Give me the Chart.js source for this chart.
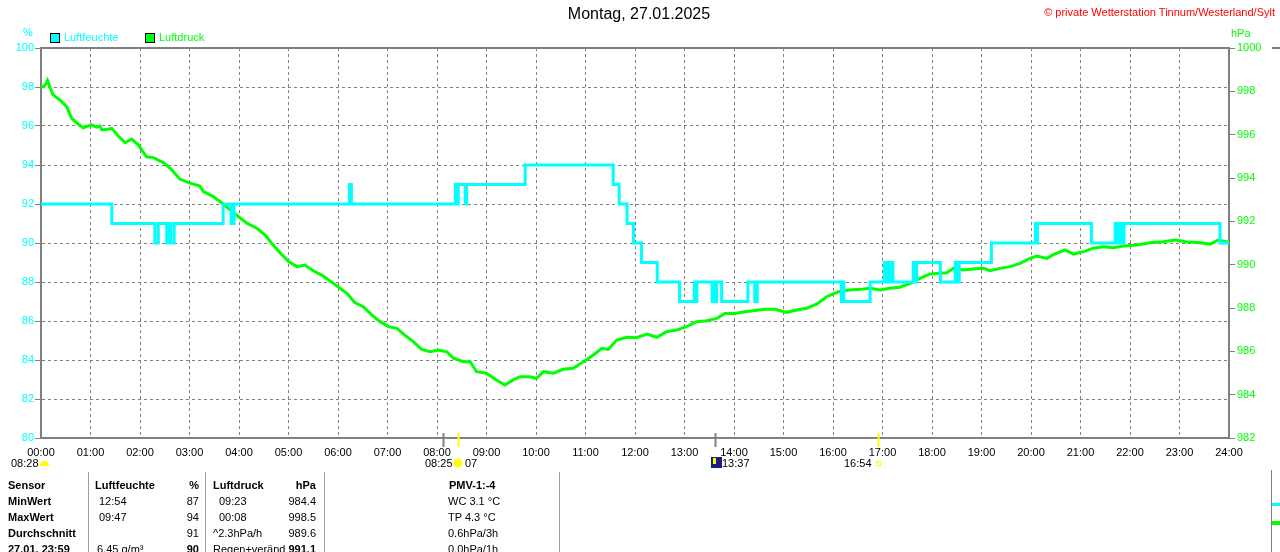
<!DOCTYPE html>
<html>
<head>
<meta charset="utf-8">
<title>Montag, 27.01.2025</title>
<script src="https://cdn.jsdelivr.net/npm/chart.js@4.4.1/dist/chart.umd.min.js"></script>
<style>
body { margin: 0; background: #fff; font-family: "Liberation Sans", Arial, sans-serif; font-size: 11px; }
#wrap { position: relative; width: 1280px; height: 552px; overflow: hidden; }
canvas { position: absolute; left: 0; top: 0; }
.t { position: absolute; white-space: nowrap; line-height: 13px; color: #000; }
.b { font-weight: bold; }
.sep { position: absolute; width: 1px; background: #a0a0a0; top: 472px; height: 80px; }
.box { position: absolute; width: 8px; height: 8px; border: 1px solid #000; }
</style>
</head>
<body>
<div id="wrap">
  <canvas id="chart" width="1280" height="552"></canvas>

  <div class="t" style="left:0;width:1278px;text-align:center;top:6px;font-size:16px;line-height:16px;">Montag, 27.01.2025</div>
  <div class="t" style="right:5px;top:6px;color:#ff0000;">© private Wetterstation Tinnum/Westerland/Sylt</div>

  <div class="t" style="left:23px;top:26px;color:#00ffff;">%</div>
  <div class="t" style="left:1231px;top:27px;color:#00ff00;">hPa</div>

  <div class="box" style="left:50px;top:33px;background:#00ffff;"></div>
  <div class="t" style="left:64px;top:31px;color:#00ffff;">Luftfeuchte</div>
  <div class="box" style="left:145px;top:33px;background:#00ff00;"></div>
  <div class="t" style="left:159px;top:31px;color:#00ff00;">Luftdruck</div>

  <!-- Sonne / Mond -->
  <div class="t" style="left:11px;top:457px;">08:28</div>
  <div style="position:absolute;left:40px;top:461px;width:9px;height:5px;background:#ffff00;border-radius:5px 5px 0 0;"></div>
  <div class="t" style="left:425px;top:457px;">08:25</div>
  <div style="position:absolute;left:454px;top:459px;width:8px;height:8px;background:#ffff00;border-radius:50%;box-shadow:0 0 0 1px #ffffa0;"></div>
  <div class="t" style="left:465px;top:457px;">07</div>
  <div style="position:absolute;left:711px;top:457px;width:11px;height:11px;background:#1c1c80;"></div>
  <div style="position:absolute;left:713px;top:458px;width:3px;height:6px;background:#ffff00;"></div>
  <div class="t" style="left:722px;top:457px;">13:37</div>
  <div class="t" style="left:844px;top:457px;">16:54</div>
  <div style="position:absolute;left:876px;top:461px;width:3px;height:3px;border:1px solid #ffff00;"></div>

  <!-- Tabelle -->
  <div class="sep" style="left:88px;"></div>
  <div class="sep" style="left:205px;"></div>
  <div class="sep" style="left:324px;"></div>
  <div class="sep" style="left:559px;"></div>

  <div class="t b" style="left:8px;top:479px;">Sensor</div>
  <div class="t b" style="left:95px;top:479px;">Luftfeuchte</div>
  <div class="t b" style="right:1081px;top:479px;">%</div>
  <div class="t b" style="left:213px;top:479px;">Luftdruck</div>
  <div class="t b" style="right:964px;top:479px;">hPa</div>
  <div class="t b" style="left:449px;top:479px;">PMV-1:-4</div>

  <div class="t b" style="left:8px;top:495px;">MinWert</div>
  <div class="t" style="left:99px;top:495px;">12:54</div>
  <div class="t" style="right:1081px;top:495px;">87</div>
  <div class="t" style="left:219px;top:495px;">09:23</div>
  <div class="t" style="right:964px;top:495px;">984.4</div>
  <div class="t" style="left:448px;top:495px;">WC 3.1 °C</div>

  <div class="t b" style="left:8px;top:511px;">MaxWert</div>
  <div class="t" style="left:99px;top:511px;">09:47</div>
  <div class="t" style="right:1081px;top:511px;">94</div>
  <div class="t" style="left:219px;top:511px;">00:08</div>
  <div class="t" style="right:964px;top:511px;">998.5</div>
  <div class="t" style="left:448px;top:511px;">TP 4.3 °C</div>

  <div class="t b" style="left:8px;top:527px;">Durchschnitt</div>
  <div class="t" style="right:1081px;top:527px;">91</div>
  <div class="t" style="left:213px;top:527px;">^2.3hPa/h</div>
  <div class="t" style="right:964px;top:527px;">989.6</div>
  <div class="t" style="left:448px;top:527px;">0.6hPa/3h</div>

  <div class="t b" style="left:8px;top:543px;">27.01. 23:59</div>
  <div class="t" style="left:97px;top:543px;">6.45 g/m³</div>
  <div class="t b" style="right:1081px;top:543px;">90</div>
  <div class="t" style="left:213px;top:543px;">Regen+veränd</div>
  <div class="t b" style="right:964px;top:543px;">991.1</div>
  <div class="t" style="left:448px;top:543px;">0.0hPa/1h</div>

  <!-- Rest des naechsten Diagramms am rechten Rand -->
  <div style="position:absolute;left:1272px;top:47px;width:8px;height:2px;background:#808080;"></div>
  <div style="position:absolute;left:1271px;top:470px;width:1px;height:82px;background:#808080;"></div>
  <div style="position:absolute;left:1272px;top:503px;width:8px;height:3px;background:#00ffff;"></div>
  <div style="position:absolute;left:1272px;top:521px;width:8px;height:4px;background:#00ff00;"></div>
</div>

<script>
// Luftfeuchte (%) - Zeitpunkt der Aenderung in Stunden und neuer Wert
const humTimes = [0, 1.43, 2.30, 2.37, 2.54, 2.60, 2.62, 2.69, 3.68, 3.84, 3.90, 6.23, 6.27,
  8.37, 8.40, 8.43, 8.57, 8.60, 9.78, 11.56, 11.68, 11.84, 11.97, 12.13, 12.45, 12.90,
  13.20, 13.22, 13.25, 13.56, 13.60, 13.62, 13.65, 13.75, 14.28, 14.42, 14.47,
  16.17, 16.20, 16.22, 16.75, 17.04, 17.10, 17.16, 17.21, 17.62, 17.66, 17.69, 18.17,
  18.47, 18.50, 18.55, 19.20, 20.09, 20.11, 20.13, 21.22, 21.70, 21.75, 21.80, 21.85, 21.88,
  23.82, 24];
const humidity = [92, 91, 90, 91, 90, 91, 90, 91, 92, 91, 92, 93, 92,
  93, 92, 93, 92, 93, 94, 93, 92, 91, 90, 89, 88, 87,
  88, 87, 88, 87, 88, 87, 88, 87, 88, 87, 88,
  87, 88, 87, 88, 89, 88, 89, 88, 89, 88, 89, 88,
  89, 88, 89, 90, 91, 90, 91, 90, 91, 90, 91, 90, 91,
  90, 90];

// Luftdruck (hPa)
const pressTimes = [0, 0.05, 0.10, 0.13, 0.18, 0.24, 0.38, 0.52, 0.62, 0.72, 0.85, 0.95, 1.02,
  1.12, 1.19, 1.23, 1.35, 1.43, 1.56, 1.70, 1.83, 1.97, 2.13, 2.27, 2.47, 2.61, 2.81, 3.01,
  3.21, 3.28, 3.48, 3.68, 3.95, 4.16, 4.36, 4.53, 4.66, 4.83, 5.00, 5.17, 5.33, 5.50, 5.67,
  5.84, 6.00, 6.18, 6.34, 6.51, 6.68, 6.85, 7.02, 7.19, 7.35, 7.52, 7.69, 7.86, 8.03, 8.20,
  8.33, 8.53, 8.67, 8.80, 9.00, 9.20, 9.37, 9.54, 9.68, 9.88, 10.01, 10.15, 10.35, 10.55,
  10.75, 10.96, 11.16, 11.33, 11.46, 11.63, 11.83, 12.03, 12.24, 12.44, 12.64, 12.84, 13.04,
  13.25, 13.45, 13.65, 13.82, 14.02, 14.22, 14.42, 14.63, 14.83, 15.06, 15.27, 15.47, 15.67,
  15.87, 16.11, 16.34, 16.55, 16.75, 16.95, 17.15, 17.35, 17.56, 17.76, 17.96, 18.16, 18.30,
  18.43, 18.63, 18.83, 19.04, 19.17, 19.37, 19.58, 19.78, 19.98, 20.12, 20.32, 20.45, 20.69,
  20.86, 21.06, 21.26, 21.46, 21.66, 21.87, 22.14, 22.40, 22.67, 22.91, 23.14, 23.41, 23.62,
  23.78, 24];
const pressure = [998.25, 998.20, 998.35, 998.50, 998.20, 997.85, 997.60, 997.29, 996.75, 996.55, 996.32, 996.40, 996.45,
  996.35, 996.40, 996.22, 996.25, 996.29, 995.94, 995.63, 995.80, 995.52, 994.98, 994.94, 994.71, 994.45, 993.94, 993.76,
  993.63, 993.37, 993.14, 992.80, 992.29, 991.91, 991.68, 991.37, 990.99, 990.55, 990.14, 989.91, 989.98, 989.72, 989.52,
  989.25, 988.98, 988.68, 988.25, 988.06, 987.68, 987.37, 987.14, 987.06, 986.75, 986.45, 986.09, 985.98, 986.06, 985.98,
  985.68, 985.52, 985.52, 985.06, 984.99, 984.68, 984.45, 984.68, 984.83, 984.83, 984.75, 985.06, 984.99, 985.17,
  985.22, 985.52, 985.83, 986.14, 986.09, 986.52, 986.65, 986.63, 986.80, 986.65, 986.91, 986.98, 987.14,
  987.37, 987.41, 987.52, 987.75, 987.75, 987.83, 987.88, 987.94, 987.94, 987.80, 987.91, 987.99, 988.18,
  988.52, 988.75, 988.83, 988.86, 988.91, 988.83, 988.91, 988.96, 989.14, 989.37, 989.57, 989.60, 989.63,
  989.83, 989.75, 989.80, 989.83, 989.72, 989.83, 989.91, 990.06, 990.29, 990.40, 990.29, 990.46, 990.68,
  990.49, 990.60, 990.76, 990.83, 990.78, 990.86, 990.91, 991.01, 991.06, 991.14, 991.06, 991.01, 990.95,
  991.14, 991.03];

const timeLabels = ['00:00', '01:00', '02:00', '03:00', '04:00', '05:00', '06:00', '07:00', '08:00',
  '09:00', '10:00', '11:00', '12:00', '13:00', '14:00', '15:00', '16:00', '17:00', '18:00',
  '19:00', '20:00', '21:00', '22:00', '23:00', '24:00'];

// Sonne / Mond Markierungen (Stunden)
const markerTimes = [8 + 7 / 60, 8 + 25 / 60, 13 + 37 / 60, 16 + 54 / 60];
const markerColors = ['#808080', '#ffff00', '#808080', '#ffff00'];

const GRAY = '#808080';

// Rahmen oben und Markierungen unter der Zeitachse
const decor = {
    id: 'decor',
    afterDraw(chart) {
        const { ctx, chartArea: a, scales: { x } } = chart;
        ctx.save();
        ctx.lineWidth = 2;
        ctx.strokeStyle = GRAY;
        ctx.beginPath();
        ctx.moveTo(a.left - 1, a.top);
        ctx.lineTo(a.right + 1, a.top);
        ctx.stroke();

        markerTimes.forEach((t, i) => {
            const px = Math.round(x.getPixelForValue(t)) + 0.5;
            ctx.strokeStyle = markerColors[i];
            ctx.beginPath();
            ctx.moveTo(px, a.bottom - 5);
            ctx.lineTo(px, a.bottom + 9);
            ctx.stroke();
        });
        ctx.restore();
    }
};

Chart.defaults.font.family = '"Liberation Sans", Arial, sans-serif';
Chart.defaults.font.size = 11;

new Chart(document.getElementById('chart'), {
    type: 'line',
    data: {
        datasets: [{
            label: 'Luftfeuchte',
            data: humTimes.map((t, i) => ({ x: t, y: humidity[i] })),
            yAxisID: 'y',
            borderColor: '#00ffff',
            borderWidth: 3,
            stepped: true,
            pointRadius: 0,
            fill: false
        }, {
            label: 'Luftdruck',
            data: pressTimes.map((t, i) => ({ x: t, y: pressure[i] })),
            yAxisID: 'y1',
            borderColor: '#00ff00',
            borderWidth: 3,
            pointRadius: 0,
            tension: 0,
            fill: false
        }]
    },
    options: {
        responsive: false,
        animation: false,
        devicePixelRatio: 1,
        layout: { padding: { top: 48 } },
        plugins: { legend: { display: false }, tooltip: { enabled: false } },
        scales: {
            x: {
                type: 'linear',
                min: 0,
                max: 24,
                afterFit(s) { s.height = 114; },
                ticks: {
                    stepSize: 1,
                    autoSkip: false,
                    maxRotation: 0,
                    color: '#000',
                    padding: 8,
                    callback: v => timeLabels[v]
                },
                grid: { color: GRAY, lineWidth: 1, drawTicks: false },
                border: { color: GRAY, width: 2, dash: [3, 3] }
            },
            y: {
                position: 'left',
                min: 80,
                max: 100,
                afterFit(s) { s.width = 41; },
                ticks: { stepSize: 2, color: '#00ffff', padding: 1, callback: v => String(v) },
                grid: { color: GRAY, lineWidth: 1, tickLength: 6, tickColor: GRAY },
                border: { color: GRAY, width: 2, dash: [3, 3] }
            },
            y1: {
                position: 'right',
                min: 982,
                max: 1000,
                afterFit(s) { s.width = 51; },
                ticks: { stepSize: 2, color: '#00ff00', padding: 2, callback: v => String(v) },
                grid: { drawOnChartArea: false, tickLength: 6, tickColor: GRAY },
                border: { color: GRAY, width: 2 }
            }
        }
    },
    plugins: [decor]
});
</script>
</body>
</html>
